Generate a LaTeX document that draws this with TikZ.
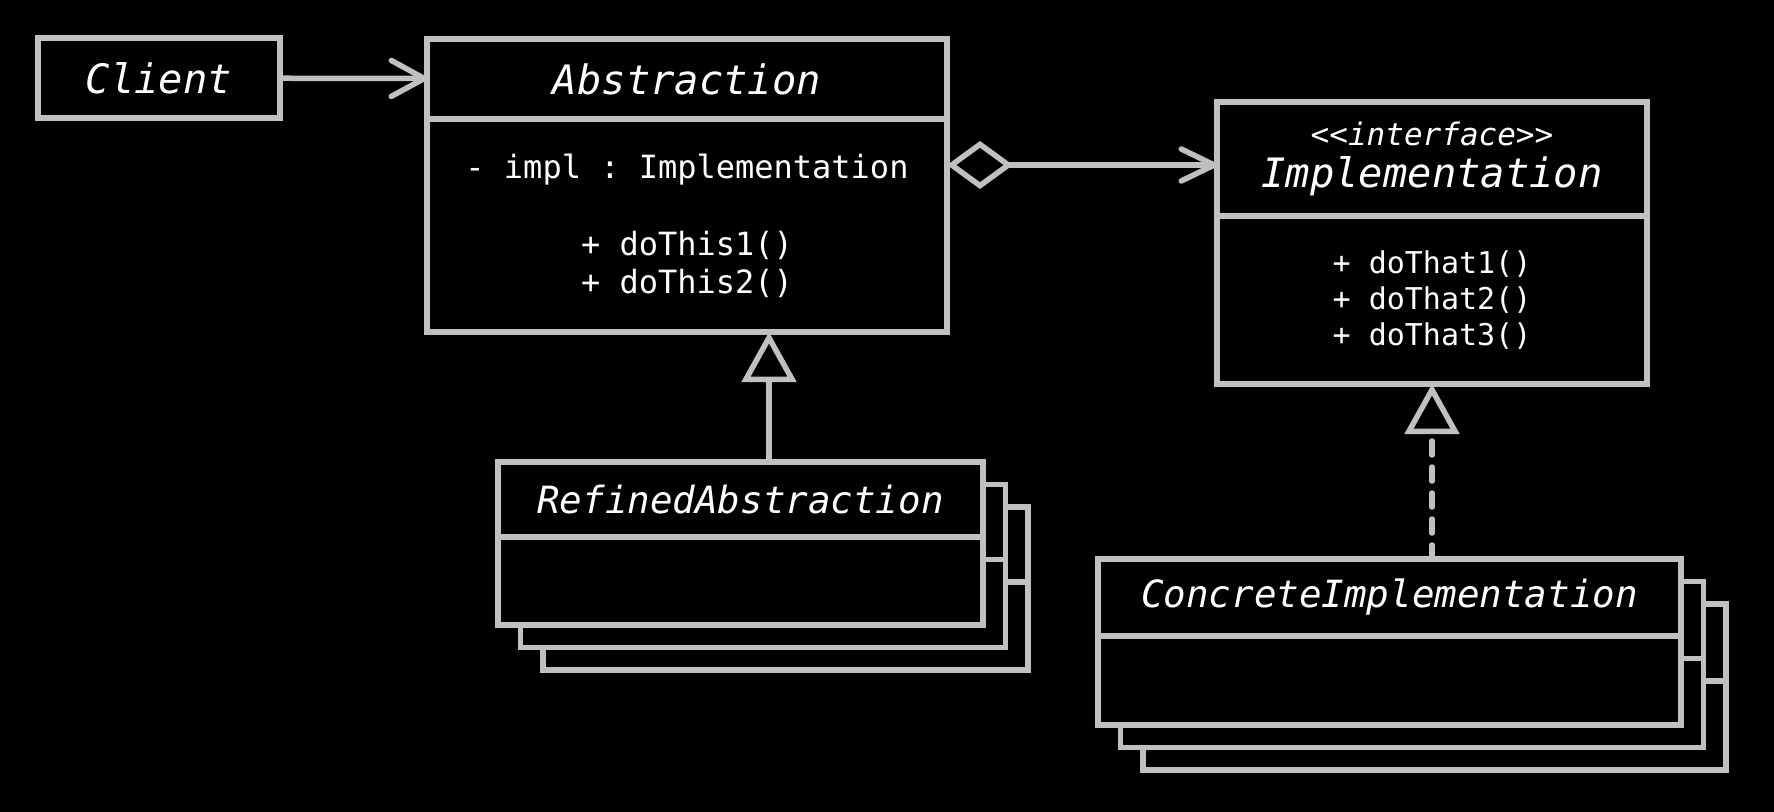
\documentclass[tikz,border=0pt]{standalone}
\usepackage{fontspec}
\setmonofont{DejaVu Sans Mono}[ItalicFont={DejaVu Sans Mono Oblique}]
\usetikzlibrary{positioning,arrows.meta}
\definecolor{linegray}{RGB}{192,192,192}
\newcommand{\umltitle}{\ttfamily\itshape\fontsize{40.5}{48}\selectfont}
\newcommand{\umlsubtitle}{\ttfamily\itshape\fontsize{37.5}{45}\selectfont}
\newcommand{\umlstereo}{\fontsize{31}{36}\selectfont}
\newcommand{\umlmember}{\ttfamily\fontsize{32}{37.5}\selectfont}
\newcommand{\umlmethod}{\ttfamily\fontsize{30}{36}\selectfont}
\tikzset{
  umlbox/.style={draw=linegray, line width=5.5pt, fill=black, text=white,
    inner sep=0pt, outer sep=0pt, align=center},
  classhead/.style={umlbox, font=\umltitle},
  stackhead/.style={umlbox, font=\umlsubtitle},
  classbody/.style={umlbox, font=\umlmember},
  link/.style={draw=linegray, line width=5.5pt},
  assoc/.style={link, -{Straight Barb[length=33pt, width=36pt, round]}},
  aggr/.style={link, {Diamond[open, length=66pt, width=48pt]}-{Straight Barb[length=33pt, width=32pt, round]}},
  inherit/.style={link, -{Triangle[open, length=50pt, width=54pt]}},
  realize/.style={inherit, dash pattern=on 14pt off 12pt, line cap=round}
}
\begin{document}
\begin{tikzpicture}[x=1pt, y=-1pt]
  \useasboundingbox (0,0) rectangle (1774,811);
  \fill[black] (-3,-3) rectangle (1777,814);

  % client and abstraction
  \node[classhead, minimum width=242pt, minimum height=80pt] (client) at (159,78) {Client};
  \node[classhead, minimum width=520pt, minimum height=80pt] (abshead) at (687,79) {Abstraction};
  \node[classbody, minimum width=520pt, minimum height=213pt, below=0pt of abshead] (absbody)
    {- impl : Implementation\\[40pt]+ doThis1()\\+ doThis2()};

  % implementation interface
  \node[classhead, minimum width=430pt, minimum height=114pt] (implhead) at (1432,159)
    {{\umlstereo <<interface>>}\\[-6pt]Implementation};
  \node[classbody, font=\umlmethod, minimum width=430pt, minimum height=168pt, below=0pt of implhead] (implbody)
    {+ doThat1()\\+ doThat2()\\+ doThat3()};

  % stacked subclasses
  \foreach \k in {2,1} {
    \node[stackhead, minimum width=485pt, minimum height=75pt] (rahead\k) at (740.5+22.5*\k,499.5+22.5*\k) {};
    \node[classbody, minimum width=485pt, minimum height=88pt, below=0pt of rahead\k] (rabody\k) {};
    \node[stackhead, minimum width=583pt, minimum height=77pt] (cihead\k) at (1389.5+22.5*\k,597.5+22.5*\k) {};
    \node[classbody, minimum width=583pt, minimum height=89pt, below=0pt of cihead\k] (cibody\k) {};
  }
  \node[stackhead, minimum width=485pt, minimum height=75pt] (rahead) at (740.5,499.5) {RefinedAbstraction};
  \node[classbody, minimum width=485pt, minimum height=88pt, below=0pt of rahead] (rabody) {};
  \node[stackhead, minimum width=583pt, minimum height=77pt] (cihead) at (1389.5,597.5) {ConcreteImplementation};
  \node[classbody, minimum width=583pt, minimum height=89pt, below=0pt of cihead] (cibody) {};

  % connectors
  \draw[assoc] (client) -- (abshead);
  \path (implhead.west) ++(0,6) coordinate (aggend);
  \draw[aggr] (aggend -| absbody.east) -- (aggend);
  \path (rahead.north) ++(28.5,0) coordinate (rafoot);
  \draw[inherit] (rafoot) -- (rafoot |- absbody.south);
  \draw[realize] (implbody.south |- cihead.north) -- (implbody.south);
\end{tikzpicture}
\end{document}
